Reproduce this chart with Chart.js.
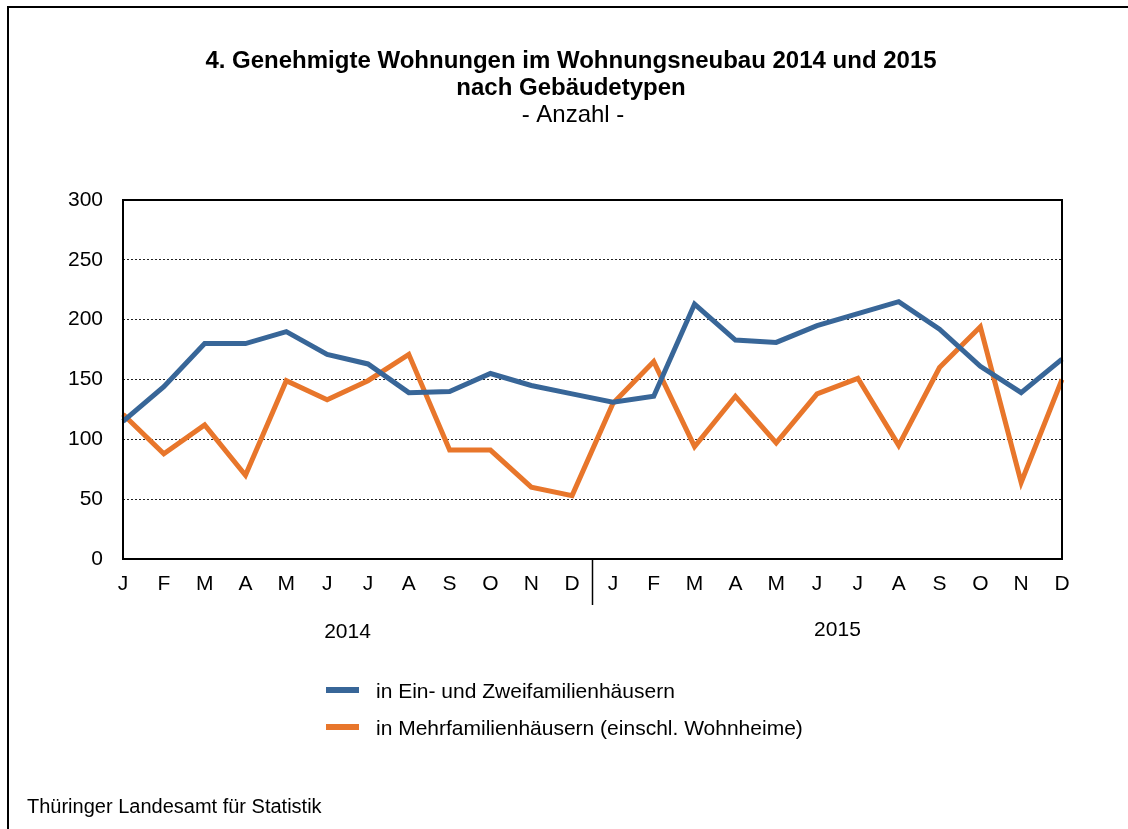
<!DOCTYPE html>
<html>
<head>
<meta charset="utf-8">
<script src="https://cdn.jsdelivr.net/npm/chart.js@4/dist/chart.umd.min.js"></script>
<style>
  body { margin: 0; background: #fff; }
  #wrap { position: relative; width: 1128px; height: 829px; }
</style>
</head>
<body>
<div id="wrap"><canvas id="grafico" width="1128" height="829"></canvas></div>
<script>
// Monate 2014 und 2015
const monate = ['J','F','M','A','M','J','J','A','S','O','N','D','J','F','M','A','M','J','J','A','S','O','N','D'];
const jahre = ['2014', '2015'];

// in Ein- und Zweifamilienhäusern
const einZwei = [115,144,180,180,190,171,163,139,140,155,145,138,131,136,213,183,181,195,205,215,192,161,139,167];
// in Mehrfamilienhäusern (einschl. Wohnheime)
const mehr = [121,88,112,70,149,133,149,171,91,91,60,53,130,165,94,136,97,138,151,95,160,194,64,150];

const yTicks = [0, 50, 100, 150, 200, 250, 300];

const titel = ['4. Genehmigte Wohnungen im Wohnungsneubau 2014 und 2015', 'nach Gebäudetypen'];
const untertitel = '- Anzahl -';
const quelle = 'Thüringer Landesamt für Statistik';

const blau = '#386698';
const orange = '#E8762B';
const schrift = '"Liberation Sans", Arial, sans-serif';

const extras = {
  id: 'extras',
  afterDraw(chart) {
    const ctx = chart.ctx;
    const a = chart.chartArea;
    const x = chart.scales.x;
    ctx.save();

    // Rahmen um das Bild
    ctx.strokeStyle = '#000';
    ctx.lineWidth = 2;
    ctx.beginPath();
    ctx.moveTo(8, 840);
    ctx.lineTo(8, 7);
    ctx.lineTo(1140, 7);
    ctx.stroke();

    // Rahmen Zeichenfläche
    ctx.lineWidth = 2;
    ctx.strokeRect(a.left, a.top, a.right - a.left, a.bottom - a.top);

    // Trennstrich zwischen den Jahren
    const sep = (x.getPixelForValue(11) + x.getPixelForValue(12)) / 2;
    ctx.lineWidth = 1.5;
    ctx.beginPath();
    ctx.moveTo(sep, a.bottom);
    ctx.lineTo(sep, a.bottom + 46);
    ctx.stroke();

    ctx.fillStyle = '#000';
    ctx.textAlign = 'center';
    ctx.textBaseline = 'alphabetic';
    ctx.font = '21px ' + schrift;
    ctx.fillText(jahre[0], (x.getPixelForValue(5) + x.getPixelForValue(6)) / 2, 638);
    ctx.fillText(jahre[1], (x.getPixelForValue(17) + x.getPixelForValue(18)) / 2, 636);

    // Titel
    ctx.font = 'bold 24px ' + schrift;
    ctx.fillText(titel[0], 571, 68);
    ctx.fillText(titel[1], 571, 95);
    ctx.font = '24px ' + schrift;
    ctx.fillText(untertitel, 573, 122);

    // Legende
    ctx.textAlign = 'left';
    ctx.font = '21px ' + schrift;
    chart.data.datasets.forEach((ds, i) => {
      const y = 690 + i * 37;
      ctx.strokeStyle = ds.borderColor;
      ctx.lineWidth = 6;
      ctx.beginPath();
      ctx.moveTo(326, y);
      ctx.lineTo(359, y);
      ctx.stroke();
      ctx.fillText(ds.label, 376, y + 8);
    });

    // Quelle
    ctx.font = '20px ' + schrift;
    ctx.fillText(quelle, 27, 813);
    ctx.restore();
  }
};

new Chart(document.getElementById('grafico'), {
  type: 'line',
  data: {
    labels: monate,
    datasets: [
      { label: 'in Ein- und Zweifamilienhäusern', data: einZwei, borderColor: blau, backgroundColor: 'transparent', borderWidth: 5, pointRadius: 0, tension: 0 },
      { label: 'in Mehrfamilienhäusern (einschl. Wohnheime)', data: mehr, borderColor: orange, backgroundColor: 'transparent', borderWidth: 5, pointRadius: 0, tension: 0 }
    ]
  },
  options: {
    responsive: false,
    animation: false,
    layout: { padding: { left: 0, top: 200, right: 66, bottom: 230 } },
    plugins: { legend: { display: false }, title: { display: false }, tooltip: { enabled: false } },
    scales: {
      x: {
        offset: false,
        grid: { display: false, drawTicks: false },
        border: { display: false },
        ticks: { color: '#000', font: { size: 21, family: schrift }, padding: 13, autoSkip: false, maxRotation: 0 },
        afterFit: s => { s.height = 40; }
      },
      y: {
        min: 0, max: 300,
        afterBuildTicks: s => { s.ticks = yTicks.map(v => ({ value: v })); },
        grid: { color: '#222', lineWidth: 1, drawTicks: false },
        border: { display: false, dash: [2, 2] },
        ticks: { color: '#000', font: { size: 21, family: schrift }, padding: 20 },
        afterFit: s => { s.width = 123; }
      }
    }
  },
  plugins: [extras]
});
</script>
</body>
</html>
